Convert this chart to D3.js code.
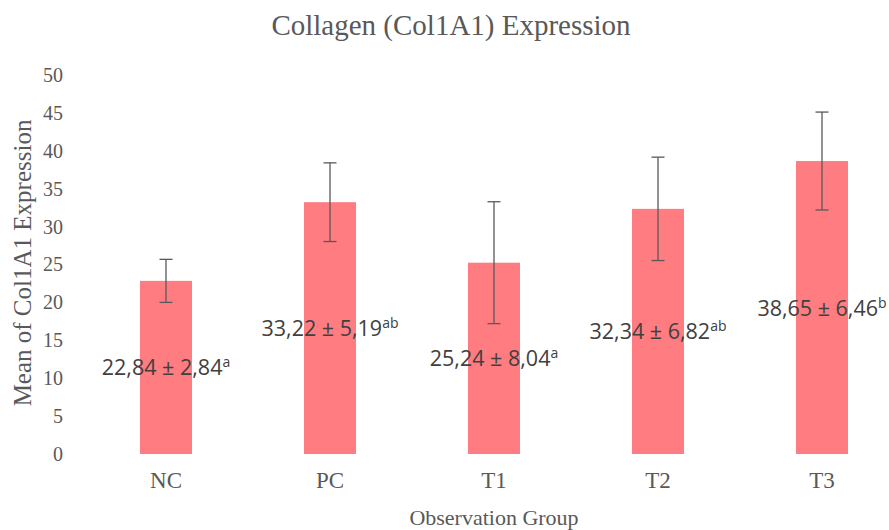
<!DOCTYPE html>
<html>
<head>
<meta charset="utf-8">
<script src="https://cdn.jsdelivr.net/npm/d3@7"></script>
<style>
  html, body { margin: 0; padding: 0; background: #fff; }
  svg { display: block; }
</style>
</head>
<body>
<svg id="chart" width="889" height="530"></svg>
<script>
const categories = ["NC", "PC", "T1", "T2", "T3"];
const means = [22.84, 33.22, 25.24, 32.34, 38.65];
const sds = [2.84, 5.19, 8.04, 6.82, 6.46];
const letters = ["a", "ab", "a", "ab", "b"];
const yTicks = [0, 5, 10, 15, 20, 25, 30, 35, 40, 45, 50];

const fmt = v => v.toFixed(2).replace(".", ",");

const svg = d3.select("#chart");
const serif = "'Liberation Serif', 'Times New Roman', serif";
const sans = "'Segoe UI', 'Open Sans', 'Noto Sans', sans-serif";

const x = d3.scaleBand()
  .domain(categories)
  .range([84, 904])
  .paddingInner(0.683)
  .paddingOuter(0.3415);

const y = d3.scaleLinear().domain([0, 50]).range([454, 75]);

// Title
svg.append("text")
  .attr("x", 451).attr("y", 25)
  .attr("text-anchor", "middle")
  .attr("dominant-baseline", "central")
  .style("font-family", serif).style("font-size", "29px")
  .style("fill", "#595959")
  .text("Collagen (Col1A1) Expression");

// Y axis (labels only)
const yAxis = svg.append("g")
  .attr("transform", "translate(63,0)")
  .call(d3.axisLeft(y).tickValues(yTicks).tickSize(0).tickPadding(0).tickFormat(d3.format("d")));
yAxis.select(".domain").remove();
yAxis.selectAll("text")
  .style("font-family", serif).style("font-size", "20px")
  .style("fill", "#595959");

// X axis (labels only)
const xAxis = svg.append("g")
  .attr("transform", "translate(0,472)")
  .call(d3.axisBottom(x).tickSize(0).tickPadding(0));
xAxis.select(".domain").remove();
xAxis.selectAll("text")
  .style("font-family", serif).style("font-size", "23px")
  .style("fill", "#595959");

// Axis titles
svg.append("text")
  .attr("transform", "translate(22," + y(25.2) + ") rotate(-90)")
  .attr("text-anchor", "middle")
  .attr("dominant-baseline", "central")
  .style("font-family", serif).style("font-size", "25px")
  .style("fill", "#595959")
  .text("Mean of Col1A1 Expression");

svg.append("text")
  .attr("x", 494).attr("y", 517)
  .attr("text-anchor", "middle")
  .attr("dominant-baseline", "central")
  .style("font-family", serif).style("font-size", "22px")
  .style("fill", "#595959")
  .text("Observation Group");

const data = categories.map((c, i) => ({ c, m: means[i], sd: sds[i], l: letters[i] }));

// Bars
svg.append("g").selectAll("rect")
  .data(data).join("rect")
  .attr("x", d => x(d.c))
  .attr("width", x.bandwidth())
  .attr("y", d => y(d.m))
  .attr("height", d => y(0) - y(d.m))
  .attr("fill", "#FF7C80");

// Error bars
const eb = svg.append("g").attr("stroke", "#595959").attr("stroke-width", 1.3);
data.forEach(d => {
  const cx = x(d.c) + x.bandwidth() / 2;
  eb.append("line").attr("x1", cx).attr("x2", cx).attr("y1", y(d.m + d.sd)).attr("y2", y(d.m - d.sd));
  eb.append("line").attr("x1", cx - 6.5).attr("x2", cx + 6.5).attr("y1", y(d.m + d.sd)).attr("y2", y(d.m + d.sd));
  eb.append("line").attr("x1", cx - 6.5).attr("x2", cx + 6.5).attr("y1", y(d.m - d.sd)).attr("y2", y(d.m - d.sd));
});

// Data labels (centered in bar)
const lbl = svg.append("g").selectAll("text")
  .data(data).join("text")
  .attr("x", d => x(d.c) + x.bandwidth() / 2)
  .attr("y", d => y(d.m / 2) + 8)
  .attr("text-anchor", "middle")
  .style("font-family", sans).style("font-size", "21.5px")
  .style("fill", "#404040");
lbl.append("tspan").text(d => fmt(d.m) + " ± " + fmt(d.sd));
lbl.append("tspan").attr("dy", -8).style("font-size", "14px").text(d => d.l);
</script>
</body>
</html>
